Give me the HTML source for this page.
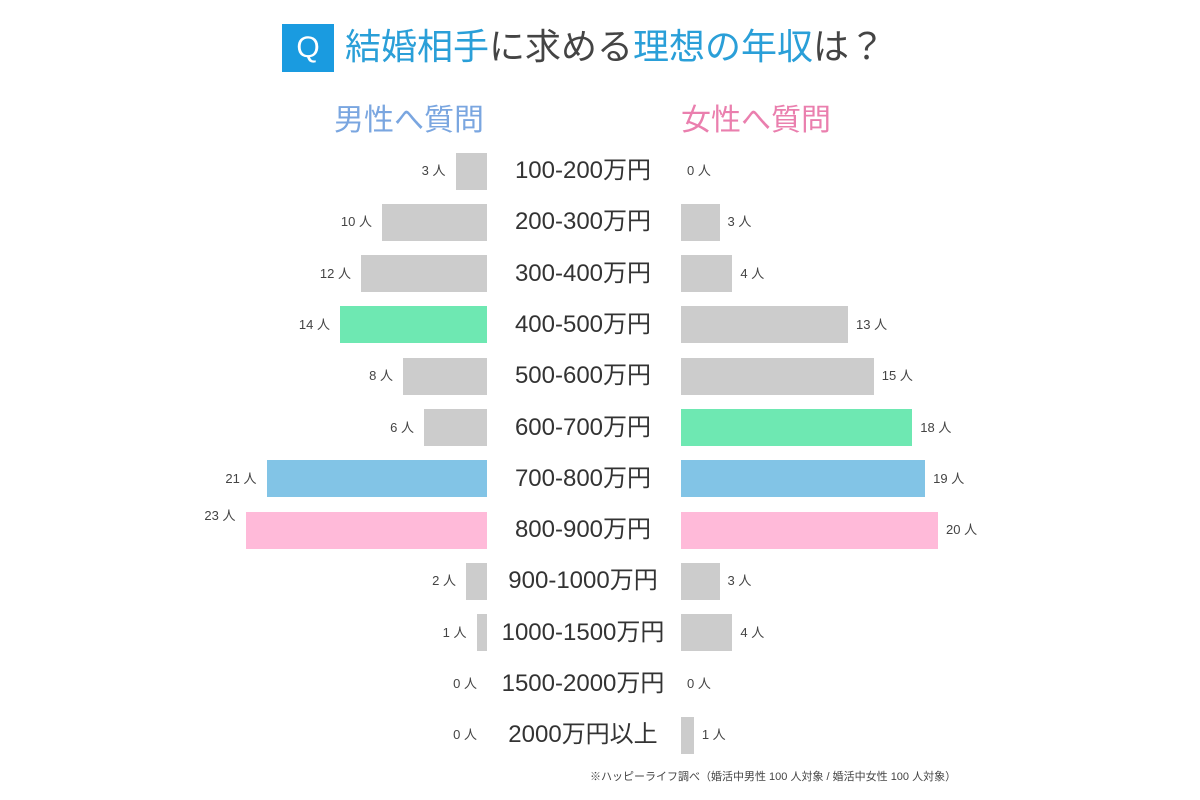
<!DOCTYPE html>
<html><head><meta charset="utf-8"><style>
body{margin:0;width:1200px;height:800px;background:#fff;position:relative;overflow:hidden;font-family:"Liberation Sans","Noto Sans CJK JP",sans-serif;}
.a{position:absolute;white-space:nowrap}
.bar{position:absolute;height:37px}
.lab{position:absolute;width:200px;left:483px;text-align:center;font-size:24px;color:#333;line-height:30px}
.vl{position:absolute;font-size:13px;color:#444;line-height:16px;text-align:right;width:60px}
.vr{position:absolute;font-size:13px;color:#444;line-height:16px}
</style></head><body>
<div class="a" style="left:282px;top:24px;width:52px;height:48px;background:#1a9be0;color:#fff;font-size:30px;line-height:48px;text-align:center">Q</div>
<div class="a" style="left:345px;top:25px;font-size:36px;line-height:44px;color:#444"><span style="color:#2a9fd8">結婚相手</span>に求める<span style="color:#2a9fd8">理想の年収</span>は？</div>
<div class="a" style="left:334px;top:102px;font-size:30px;line-height:38px;color:#7aa6e0">男性へ質問</div>
<div class="a" style="left:681px;top:102px;font-size:30px;line-height:38px;color:#ea7fae">女性へ質問</div>
<div id="rows"></div>
<div class="a" style="left:590px;top:768px;font-size:11px;color:#444">※ハッピーライフ調べ（婚活中男性 100 人対象 / 婚活中女性 100 人対象）</div>
<script>
var d=[["100-200万円",3,0],["200-300万円",10,3],["300-400万円",12,4],["400-500万円",14,13],["500-600万円",8,15],["600-700万円",6,18],["700-800万円",21,19],["800-900万円",23,20],["900-1000万円",2,3],["1000-1500万円",1,4],["1500-2000万円",0,0],["2000万円以上",0,1]];
var cl={3:"#6ee8b2",6:"#82c4e6",7:"#ffbad9"},cr={5:"#6ee8b2",6:"#82c4e6",7:"#ffbad9"};
var h="";
d.forEach(function(r,i){var c=171+i*51.3,t=c-18.5;
var wl=r[1]*10.5,wr=r[2]*12.85;
if(wl)h+='<div class="bar" style="left:'+(487-wl)+'px;top:'+t+'px;width:'+wl+'px;background:'+(cl[i]||"#cccccc")+'"></div>';
if(wr)h+='<div class="bar" style="left:681px;top:'+t+'px;width:'+wr+'px;background:'+(cr[i]||"#cccccc")+'"></div>';
h+='<div class="lab" style="top:'+(c-15)+'px">'+r[0]+'</div>';
h+='<div class="vl" style="left:'+(487-wl-70)+'px;top:'+(c-8-(i==7?14:0))+'px">'+r[1]+' 人</div>';
h+='<div class="vr" style="left:'+(681+wr+(wr?8:6))+'px;top:'+(c-8)+'px">'+r[2]+' 人</div>';
});
document.getElementById("rows").innerHTML=h;
</script>
</body></html>
